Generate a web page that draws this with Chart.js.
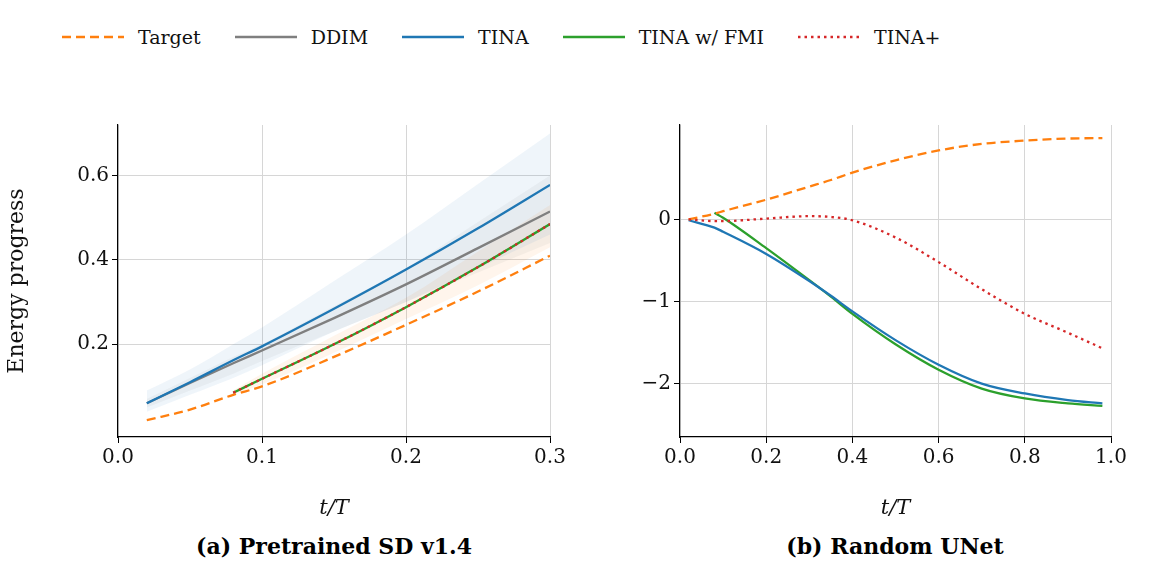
<!DOCTYPE html>
<html lang="en">
<head>
<meta charset="UTF-8">
<title>Energy progress</title>
<style>
    body { margin: 0; width: 1152px; height: 583px; background: #fff; font-family: 'DejaVu Serif', serif; position: relative; overflow: hidden; }
    .legend { position: absolute; top: 26px; left: 62px; display: flex; font-size: 19px; color: #111; }
    .legend span { display: flex; align-items: center; margin-right: 34px; }
    .legend svg { margin-right: 14px; }
    .box { position: absolute; top: 110px; height: 415px; }
    .cap { position: absolute; top: 533px; font-weight: bold; font-size: 22px; transform: translateX(-50%); white-space: nowrap; }
</style>
</head>
<body>
<div class="legend">
    <span><svg width="62" height="6"><line x1="0" y1="3" x2="62" y2="3" stroke="#ff7f0e" stroke-width="2.5" stroke-dasharray="9,5"/></svg>Target</span>
    <span><svg width="62" height="6"><line x1="0" y1="3" x2="62" y2="3" stroke="#7f7f7f" stroke-width="2.5"/></svg>DDIM</span>
    <span><svg width="62" height="6"><line x1="0" y1="3" x2="62" y2="3" stroke="#1f77b4" stroke-width="2.5"/></svg>TINA</span>
    <span><svg width="62" height="6"><line x1="0" y1="3" x2="62" y2="3" stroke="#2ca02c" stroke-width="2.5"/></svg>TINA w/ FMI</span>
    <span><svg width="62" height="6"><line x1="0" y1="3" x2="62" y2="3" stroke="#d62728" stroke-width="2.5" stroke-dasharray="2.5,4"/></svg>TINA+</span>
</div>
<div class="box" style="left:0;width:570px"><canvas id="left"></canvas></div>
<div class="box" style="left:600px;width:531px"><canvas id="right"></canvas></div>
<div class="cap" style="left:334px">(a) Pretrained SD v1.4</div>
<div class="cap" style="left:895px">(b) Random UNet</div>

<script src="https://cdn.jsdelivr.net/npm/chart.js"></script>
<script>
// (a) Pretrained SD v1.4
var sdT = [0.02, 0.05, 0.08, 0.1, 0.15, 0.2, 0.25, 0.3];
var sdTarget = [0.02, 0.045, 0.08, 0.10, 0.17, 0.246, 0.325, 0.41];
var sdDDIM = [0.06, 0.108, 0.155, 0.185, 0.262, 0.342, 0.428, 0.515];
var sdTINA = [0.06, 0.11, 0.162, 0.195, 0.284, 0.377, 0.475, 0.578];
var sdFMI = [null, null, 0.085, 0.118, 0.20, 0.288, 0.383, 0.485];
var sdPlus = [null, null, 0.085, 0.118, 0.20, 0.288, 0.383, 0.485];
var sdTINALow = [0.04, 0.08, 0.12, 0.15, 0.23, 0.30, 0.38, 0.46];
var sdTINAHigh = [0.09, 0.14, 0.20, 0.24, 0.35, 0.46, 0.58, 0.70];
var sdDDIMLow = [0.05, 0.09, 0.13, 0.16, 0.23, 0.30, 0.37, 0.44];
var sdDDIMHigh = [0.07, 0.12, 0.17, 0.20, 0.29, 0.38, 0.49, 0.60];
var sdFMILow = [null, null, 0.08, 0.105, 0.18, 0.26, 0.34, 0.43];
var sdFMIHigh = [null, null, 0.09, 0.13, 0.22, 0.31, 0.42, 0.53];

// (b) Random UNet
var unT = [0.02, 0.08, 0.1, 0.2, 0.3, 0.35, 0.4, 0.5, 0.6, 0.7, 0.8, 0.9, 0.98];
var unTarget = [0.0, 0.07, 0.1, 0.24, 0.4, 0.48, 0.57, 0.72, 0.84, 0.92, 0.96, 0.985, 0.99];
var unTINA = [-0.01, -0.1, -0.15, -0.42, -0.75, -0.93, -1.12, -1.47, -1.77, -2.0, -2.12, -2.2, -2.24];
var unFMI = [null, 0.08, 0.02, -0.35, -0.74, -0.94, -1.15, -1.52, -1.83, -2.06, -2.18, -2.24, -2.27];
var unPlus = [0.0, -0.02, -0.02, 0.01, 0.04, 0.03, -0.01, -0.22, -0.52, -0.85, -1.15, -1.38, -1.57];

function pts(xs, ys) {
    var out = [];
    for (var i = 0; i < xs.length; i++) if (ys[i] !== null) out.push({ x: xs[i], y: ys[i] });
    return out;
}
function line(data, color, order, dash) {
    return { data: data, borderColor: color, borderWidth: 2.3, borderDash: dash || [], pointRadius: 0,
             fill: false, cubicInterpolationMode: 'monotone', order: order };
}
function band(data, color, fillTo) {
    return { data: data, borderWidth: 0, pointRadius: 0, backgroundColor: color, fill: fillTo,
             cubicInterpolationMode: 'monotone', order: 20 };
}
var tickFont = { family: 'DejaVu Serif', size: 20 };
function axes(xmin, xmax, xstep, ymin, ymax, ystep, yw, ytitle, fmtx, fmty) {
    var grid = { color: '#d6d6d6', tickColor: '#000', tickLength: 6 };
    function keep(step) {
        return function (a) {
            a.ticks = a.ticks.filter(function (t) { return Math.abs(t.value / step - Math.round(t.value / step)) < 1e-6; });
        };
    }
    return {
        x: { type: 'linear', min: xmin, max: xmax, grid: grid, border: { color: '#000', width: 1.2 },
             ticks: { stepSize: xstep, color: '#111', font: tickFont, callback: fmtx, maxRotation: 0 },
             title: { display: true, text: 't/T', color: '#111', font: { family: 'DejaVu Serif', size: 21, style: 'italic' } },
             afterBuildTicks: keep(xstep),
             afterFit: function (a) { a.height = 88; } },
        y: { min: ymin, max: ymax, grid: grid, border: { color: '#000', width: 1.2 },
             ticks: { stepSize: ystep, color: '#111', font: tickFont, callback: fmty },
             title: { display: !!ytitle, text: ytitle, color: '#111', font: { family: 'DejaVu Serif', size: 22 } },
             afterBuildTicks: keep(ystep),
             afterFit: function (a) { a.width = yw; } }
    };
}
var common = { responsive: true, maintainAspectRatio: false, animation: false,
    plugins: { legend: { display: false }, tooltip: { enabled: false } } };

new Chart(document.getElementById('left'), {
    type: 'line',
    data: { datasets: [
        band(pts(sdT, sdTINALow), 'rgba(31,119,180,0.07)', false),
        band(pts(sdT, sdTINAHigh), 'rgba(31,119,180,0.07)', '-1'),
        band(pts(sdT, sdDDIMLow), 'rgba(127,127,127,0.08)', false),
        band(pts(sdT, sdDDIMHigh), 'rgba(127,127,127,0.08)', '-1'),
        band(pts(sdT, sdFMILow), 'rgba(255,127,14,0.08)', false),
        band(pts(sdT, sdFMIHigh), 'rgba(255,127,14,0.08)', '-1'),
        line(pts(sdT, sdTarget), '#ff7f0e', 1, [9, 5]),
        line(pts(sdT, sdDDIM), '#7f7f7f', 4),
        line(pts(sdT, sdTINA), '#1f77b4', 3),
        line(pts(sdT, sdFMI), '#2ca02c', 2),
        line(pts(sdT, sdPlus), '#d62728', 0, [2.5, 4])
    ] },
    options: Object.assign({}, common, {
        layout: { padding: { top: 10, right: 20 } },
        scales: axes(0, 0.3, 0.1, -0.02, 0.72, 0.2, 118, 'Energy progress',
            function (v) { return v.toFixed(1); }, function (v) { return Math.abs(v).toFixed(1); })
    })
});

new Chart(document.getElementById('right'), {
    type: 'line',
    data: { datasets: [
        line(pts(unT, unTarget), '#ff7f0e', 1, [9, 5]),
        line(pts(unT, unTINA), '#1f77b4', 2),
        line(pts(unT, unFMI), '#2ca02c', 3),
        line(pts(unT, unPlus), '#d62728', 0, [2.5, 4])
    ] },
    options: Object.assign({}, common, {
        layout: { padding: { top: 10, right: 20 } },
        scales: axes(0, 1.0, 0.2, -2.65, 1.15, 1, 80, '',
            function (v) { return v.toFixed(1); },
            function (v) { return String(Math.round(v)).replace('-', '\u2212'); })
    })
});
</script>
</body>
</html>
